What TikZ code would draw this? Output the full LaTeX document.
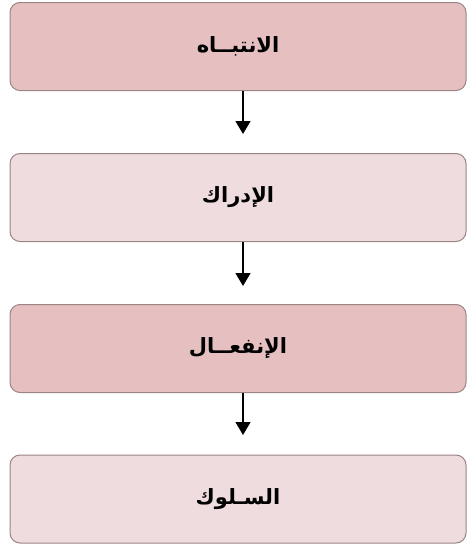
\documentclass[tikz,border=0pt]{standalone}
\usepackage{fontspec}
\TeXXeTstate=1
\newfontfamily\arabicfont[Script=Arabic]{DejaVu Sans}
\usetikzlibrary{arrows.meta}
\definecolor{boxdark}{HTML}{E6C0C1}
\definecolor{boxlight}{HTML}{EEDCDE}
\definecolor{boxline}{HTML}{9C8486}
\tikzset{
  stagebox/.style={draw=boxline, line width=1pt, rounded corners=10pt,
    minimum width=456pt, minimum height=88pt, inner sep=0pt,
    font=\arabicfont\bfseries\fontsize{21}{25}\selectfont},
  flow/.style={-{Triangle[length=13pt,width=15pt]}, line width=1.4pt, black}
}
\begin{document}
\begin{tikzpicture}[x=1pt,y=-1pt]
  \useasboundingbox (0,0) rectangle (468,546);
  \node[stagebox, fill=boxdark]  (attn) at (238,46.5) {\beginR الانتبــاه\endR};
  \node[stagebox, fill=boxlight] (perc) at (238,197.5) {\beginR الإدراك\endR};
  \node[stagebox, fill=boxdark]  (emo)  at (238,348.5) {\beginR الإنفعــال\endR};
  \node[stagebox, fill=boxlight] (beh)  at (238,499) {\beginR السـلوك\endR};
  \coordinate (t1) at (243,134);
  \coordinate (t2) at (243,286);
  \coordinate (t3) at (243,435);
  \draw[flow] (attn.south -| t1) -- (t1);
  \draw[flow] (perc.south -| t2) -- (t2);
  \draw[flow] (emo.south -| t3) -- (t3);
\end{tikzpicture}
\end{document}
